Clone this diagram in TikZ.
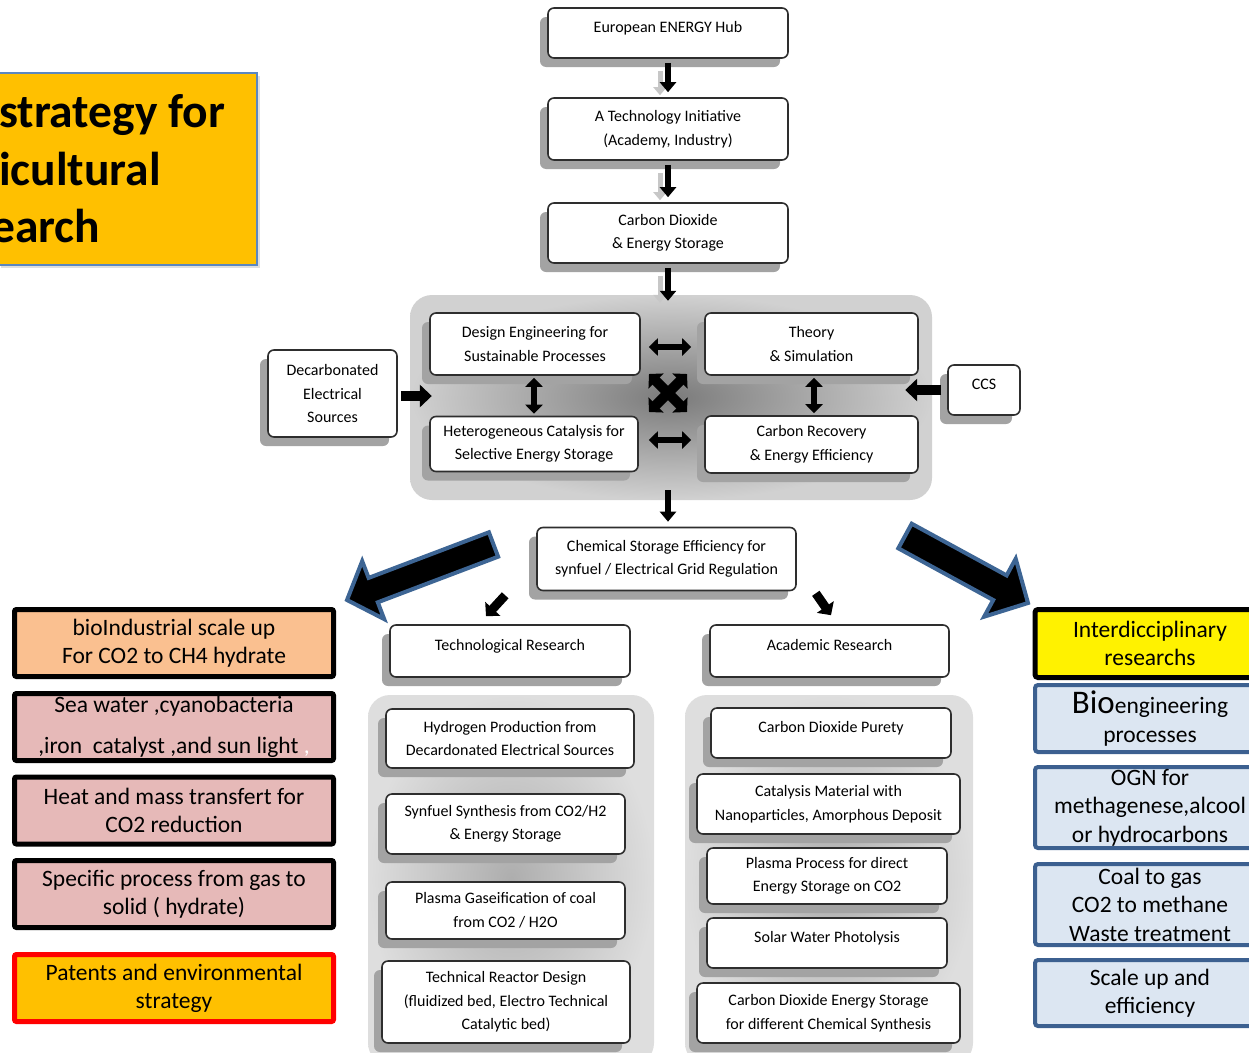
\documentclass[tikz,border=0pt]{standalone}
\usepackage{fontspec}
\setmainfont{Carlito}
\usetikzlibrary{arrows.meta,calc,shadows}
\definecolor{titleorange}{HTML}{FFC000}
\definecolor{titleedge}{HTML}{5B87C0}
\definecolor{peach}{HTML}{FAC090}
\definecolor{rose}{HTML}{E6B9B8}
\definecolor{paleblue}{HTML}{DCE6F2}
\definecolor{navyedge}{HTML}{3C6090}
\definecolor{arrowedge}{HTML}{3D6594}
\definecolor{frameline}{HTML}{2E2E2E}
\tikzset{
  fshadow/.style={drop shadow={shadow xshift=-8pt,shadow yshift=-9pt,fill=black!36,opacity=1}},
  flowbox/.style={draw=frameline,line width=1.6pt,rounded corners=6pt,fill=white,align=center,
    font=\fontsize{16}{23.5}\selectfont,inner sep=0pt,fshadow},
  onetop/.style={text height=12pt,text depth=14pt},
  chainarrow/.style={draw=black,line width=6pt,-{Triangle[width=16pt,length=10pt]}},
  ghostarrow/.style={draw=black!22,line width=5pt,-{Triangle[width=13pt,length=8pt]}},
  fatarrow/.style={draw=black,line width=10pt,-{Triangle[width=22pt,length=12pt]}},
  smallfat/.style={draw=black,line width=9pt,-{Triangle[width=20pt,length=10pt]}},
  twoway/.style={draw=black,line width=6pt,{Triangle[width=17pt,length=9pt]}-{Triangle[width=17pt,length=9pt]}},
  crossway/.style={draw=black,line width=10pt,{Triangle[width=21pt,length=10pt]}-{Triangle[width=21pt,length=10pt]}},
  panelbox/.style={rounded corners=22pt,shading=radial,inner color=black!52,outer color=black!18,inner sep=0pt},
  colpanel/.style={rounded corners=22pt,shading=radial,inner color=black!32,outer color=black!13,inner sep=0pt},
  leftbox/.style={draw=black,line width=5pt,rounded corners=2pt,align=center,
    font=\fontsize{23.5}{28}\selectfont,minimum width=319pt,minimum height=67pt,inner sep=0pt},
  rightbox/.style={draw=navyedge,line width=4pt,rounded corners=3pt,fill=paleblue,align=center,
    font=\fontsize{23.5}{28.5}\selectfont,minimum width=230pt,inner sep=0pt},
  bigarrow/.style={fill=black,draw=arrowedge,line width=4pt,line join=miter},
  titletext/.style={font=\fontsize{47.5}{57}\bfseries\selectfont,anchor=base west,inner sep=0pt},
}
\begin{document}
\begin{tikzpicture}[x=1pt,y=-1pt]
\useasboundingbox (0,0) rectangle (1249,1052);
\clip (0,0) rectangle (1249,1052);
% ---------- title ----------
\node[draw=titleedge,line width=1.5pt,fill=titleorange,minimum width=259pt,minimum height=192pt,inner sep=0pt,
  drop shadow={shadow xshift=3pt,shadow yshift=-3pt,opacity=.25}] (title) at (127.5,169) {};
\node[titletext] (t1) at (-1,127) {strategy for};
\node[titletext] (t2) at (-1,185) {icultural};
\node[titletext] (t3) at (-9,242) {earch};
% ---------- top chain ----------
\node[flowbox,onetop,minimum width=240pt,minimum height=50pt] (hub) at (668,33) {European ENERGY Hub};
\node[flowbox,minimum width=240pt,minimum height=62pt] (initiative) at (668,129) {A Technology Initiative\\(Academy, Industry)};
\node[flowbox,minimum width=240pt,minimum height=60pt] (co2) at (668,233) {Carbon Dioxide\\\& Energy Storage};
% ---------- central panel ----------
\node[panelbox,minimum width=522pt,minimum height=205pt] (panel) at (671,397.5) {};
\node[flowbox,minimum width=210pt,minimum height=62pt] (design) at (535,344) {Design Engineering for\\Sustainable Processes};
\node[flowbox,minimum width=213pt,minimum height=62pt] (theory) at (811.5,344) {Theory\\\& Simulation};
\node[flowbox,minimum width=208pt,minimum height=55pt] (hetero) at (534,444) {Heterogeneous Catalysis for\\Selective Energy Storage};
\node[flowbox,minimum width=213pt,minimum height=57pt] (recovery) at (811.5,444.5) {Carbon Recovery\\\& Energy Efficiency};
\node[flowbox,minimum width=129pt,minimum height=87pt] (decarb) at (332.5,393.5) {Decarbonated\\Electrical\\Sources};
\node[flowbox,onetop,minimum width=72pt,minimum height=50pt] (ccs) at (984,390) {CCS};
\coordinate (xc) at (668,393);
\node[flowbox,minimum width=259pt,minimum height=63pt] (chem) at (666.5,559) {Chemical Storage Efficiency for\\synfuel / Electrical Grid Regulation};
\node[flowbox,onetop,minimum width=240pt,minimum height=52pt] (techres) at (510,651) {Technological Research};
\node[flowbox,onetop,minimum width=239pt,minimum height=52pt] (acadres) at (829.5,651) {Academic Research};
% ---------- columns ----------
\node[colpanel,minimum width=286pt,minimum height=370pt] (leftcol) at (511,880) {};
\node[colpanel,minimum width=288pt,minimum height=370pt] (rightcol) at (829,880) {};
\node[flowbox,minimum width=248pt,minimum height=59pt] (hydrogen) at (510,738.5) {Hydrogen Production from\\Decardonated Electrical Sources};
\node[flowbox,minimum width=239pt,minimum height=60pt] (synfuel) at (505.5,824) {Synfuel Synthesis from CO2/H2\\\& Energy Storage};
\node[flowbox,minimum width=239pt,minimum height=57pt] (gasif) at (505.5,910.5) {Plasma Gaseification of coal\\from CO2 / H2O};
\node[flowbox,minimum width=248pt,minimum height=82pt] (reactor) at (506,1002) {Technical Reactor Design\\(fluidized bed, Electro Technical\\Catalytic bed)};
\node[flowbox,onetop,minimum width=240pt,minimum height=50pt] (purity) at (831,733) {Carbon Dioxide Purety};
\node[flowbox,minimum width=263pt,minimum height=60pt] (catalysis) at (828.5,804) {Catalysis Material with\\Nanoparticles, Amorphous Deposit};
\node[flowbox,minimum width=240pt,minimum height=56pt] (plasma) at (827,876) {Plasma Process for direct\\Energy Storage on CO2};
\node[flowbox,onetop,minimum width=240pt,minimum height=50pt] (solar) at (827,943) {Solar Water Photolysis};
\node[flowbox,minimum width=263pt,minimum height=60pt] (cdes) at (828.5,1013) {Carbon Dioxide Energy Storage\\for different Chemical Synthesis};
% ---------- left boxes ----------
\node[leftbox,fill=peach] (bioind) at (174,643) {bioIndustrial scale up\\For CO2 to CH4 hydrate};
\node[leftbox,fill=rose] (seawater) at (174,727) {Sea water ,cyanobacteria\\[13pt],iron~ catalyst ,and sun light {\color{white},}};
\node[leftbox,fill=rose] (heat) at (174,810.5) {Heat and mass transfert for\\CO2 reduction};
\node[leftbox,fill=rose] (specific) at (174,894) {Specific process from gas to\\solid ( hydrate)};
\node[leftbox,draw=red,fill=titleorange] (patents) at (174,988) {Patents and environmental\\strategy};
% ---------- right boxes ----------
\node[rightbox,draw=black,line width=5pt,fill=yellow,minimum height=68pt] (inter) at (1150,643.5) {Interdicciplinary\\researchs};
\node[rightbox,minimum height=67pt] (bioeng) at (1150,718.5) {{\fontsize{33}{33}\selectfont Bio}engineering\\processes};
\node[rightbox,minimum height=81pt] (ogn) at (1150,807.5) {OGN for\\methagenese,alcool\\or hydrocarbons};
\node[rightbox,minimum height=81pt] (coal) at (1150,904.5) {Coal to gas\\CO2 to methane\\Waste treatment};
\node[rightbox,minimum height=66pt] (scale) at (1150,993) {Scale up and\\efficiency};
% ---------- arrows ----------
\draw[ghostarrow] ($(hub.south)+(-8,12)$) -- ($(initiative.north)+(-8,-2)$);
\draw[ghostarrow] ($(initiative.south)+(-8,12)$) -- ($(co2.north)+(-8,-2)$);
\draw[ghostarrow] ($(co2.south)+(-8,12)$) -- ($(co2.south |- panel.north)+(-8,8)$);
\draw[chainarrow] ($(hub.south)+(0,4)$) -- ($(initiative.north)+(0,-5)$);
\draw[chainarrow] ($(initiative.south)+(0,4)$) -- ($(co2.north)+(0,-5)$);
\draw[chainarrow] ($(co2.south)+(0,4)$) -- ($(co2.south |- panel.north)+(0,6)$);
\draw[chainarrow] ($(chem.north |- panel.south)+(1.5,-10)$) -- ($(chem.north)+(1.5,-5)$);
\draw[twoway] ($(design.east)+(8,3)$) -- ($(theory.west)+(-13,3)$);
\draw[twoway] ($(hetero.east)+(10,-4)$) -- ($(recovery.west)+(-13,-4.5)$);
\draw[twoway] ($(design.south)+(-1,2)$) -- ($(hetero.north)+(0,-2)$);
\draw[twoway] ($(theory.south)+(2.5,2)$) -- ($(recovery.north)+(2.5,-2)$);
\draw[crossway] ($(xc)+(-19,-19)$) -- ($(xc)+(19,19)$);
\draw[crossway] ($(xc)+(-19,19)$) -- ($(xc)+(19,-19)$);
\draw[fatarrow] ($(decarb.east)+(3,2.5)$) -- ($(decarb.east -| panel.west)+(22,2.5)$);
\draw[fatarrow] ($(ccs.west)+(-6,0)$) -- ($(ccs.west -| panel.east)+(-27,0)$);
\draw[smallfat] ($(chem.south west)+(-31,4)$) -- ($(techres.north)+(-24,-8)$);
\draw[smallfat] ($(chem.south east)+(19,2)$) -- ($(acadres.north)+(1.5,-9)$);
% big block arrows
\draw[bigarrow] (347,600) -- (384.2,619.1) -- (377.8,602.3) -- (498.1,556.7) -- (488.9,532.3) -- (368.6,577.9) -- (362.2,561.1) -- cycle;
\draw[bigarrow] (1028,603) -- (984.1,616.7) -- (993.2,600.0) -- (898.3,548.3) -- (911.7,523.7) -- (1006.6,575.4) -- (1015.7,558.7) -- cycle;
\end{tikzpicture}
\end{document}
